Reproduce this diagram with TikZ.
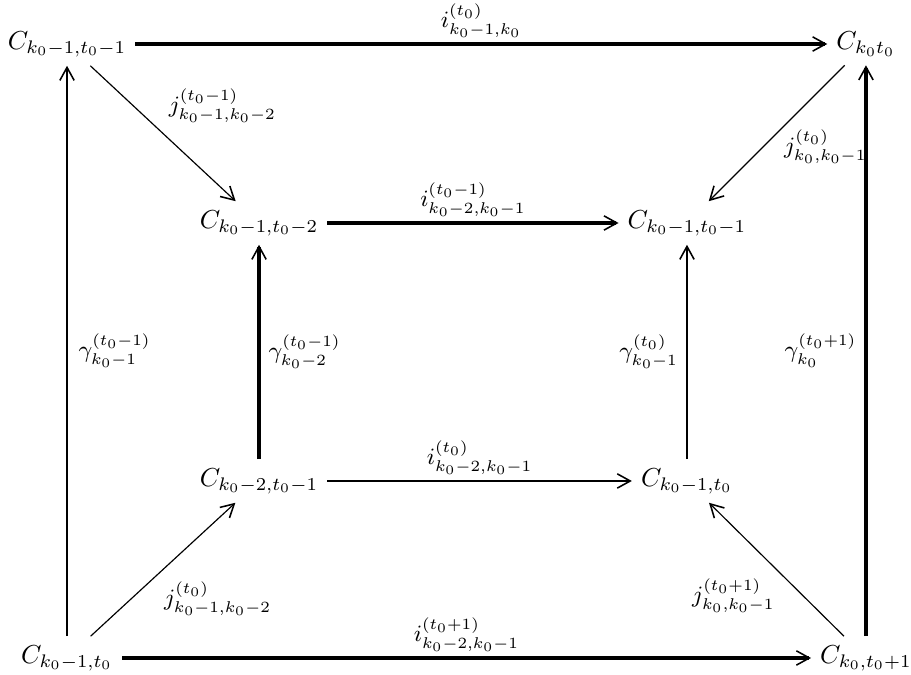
\documentclass[tikz,border=0pt]{standalone}
\usetikzlibrary{arrows.meta,positioning}
\begin{document}
\begin{tikzpicture}[>={Straight Barb[length=5pt,width=5.5pt,line width=0.6pt]},
    heavy/.style={->,line width=1.3pt},
    medium/.style={->,line width=0.9pt},
    light/.style={->,line width=0.45pt},
    tag/.style={font=\small,inner sep=2pt}]
  \useasboundingbox (0,0) rectangle (12.317,9.126);
  % the eight objects
  \node (outTL) at (0.906,8.531) {$C_{k_0-1,t_0-1}$};
  \node (outTR) at (11.708,8.531) {$C_{k_0t_0}$};
  \node (inTL) at (3.502,6.111) {$C_{k_0-1,t_0-2}$};
  \node (inTR) at (9.288,6.111) {$C_{k_0-1,t_0-1}$};
  \node (inBL) at (3.502,2.623) {$C_{k_0-2,t_0-1}$};
  \node (inBR) at (9.288,2.623) {$C_{k_0-1,t_0}$};
  \node (outBL) at (0.906,0.230) {$C_{k_0-1,t_0}$};
  \node (outBR) at (11.708,0.230) {$C_{k_0,t_0+1}$};
  % horizontal maps
  \draw[heavy] (outTL) -- node[tag,above] {$i^{(t_0)}_{k_0-1,k_0}$} (outTR);
  \draw[heavy] (inTL) -- node[tag,above] {$i^{(t_0-1)}_{k_0-2,k_0-1}$} (inTR);
  \draw[medium] (inBL) -- node[tag,above] {$i^{(t_0)}_{k_0-2,k_0-1}$} (inBR);
  \draw[heavy] (outBL) -- node[tag,above] {$i^{(t_0+1)}_{k_0-2,k_0-1}$} (outBR);
  % vertical maps
  \draw[medium] (outBL) -- node[tag,right=2pt] {$\gamma^{(t_0-1)}_{k_0-1}$} (outTL);
  \draw[heavy] (inBL) -- node[tag,right=1pt] {$\gamma^{(t_0-1)}_{k_0-2}$} (inTL);
  \draw[medium] (inBR) -- node[tag,left=1pt] {$\gamma^{(t_0)}_{k_0-1}$} (inTR);
  \draw[heavy] (outBR) -- node[tag,left=1pt] {$\gamma^{(t_0+1)}_{k_0}$} (outTR);
  % diagonal maps
  \draw[light] (outTL) -- node[tag,above right=2pt and 0pt,pos=0.5] {$j^{(t_0-1)}_{k_0-1,k_0-2}$} (inTL);
  \draw[light] (outTR) -- node[tag,below right=-1pt and -2pt,pos=0.45] {$j^{(t_0)}_{k_0,k_0-1}$} (inTR);
  \draw[light] (outBL) -- node[tag,below right=0pt and 1pt,pos=0.45] {$j^{(t_0)}_{k_0-1,k_0-2}$} (inBL);
  \draw[light] (outBR) -- node[tag,below left=0pt and 0pt,pos=0.47] {$j^{(t_0+1)}_{k_0,k_0-1}$} (inBR);
\end{tikzpicture}
\end{document}
